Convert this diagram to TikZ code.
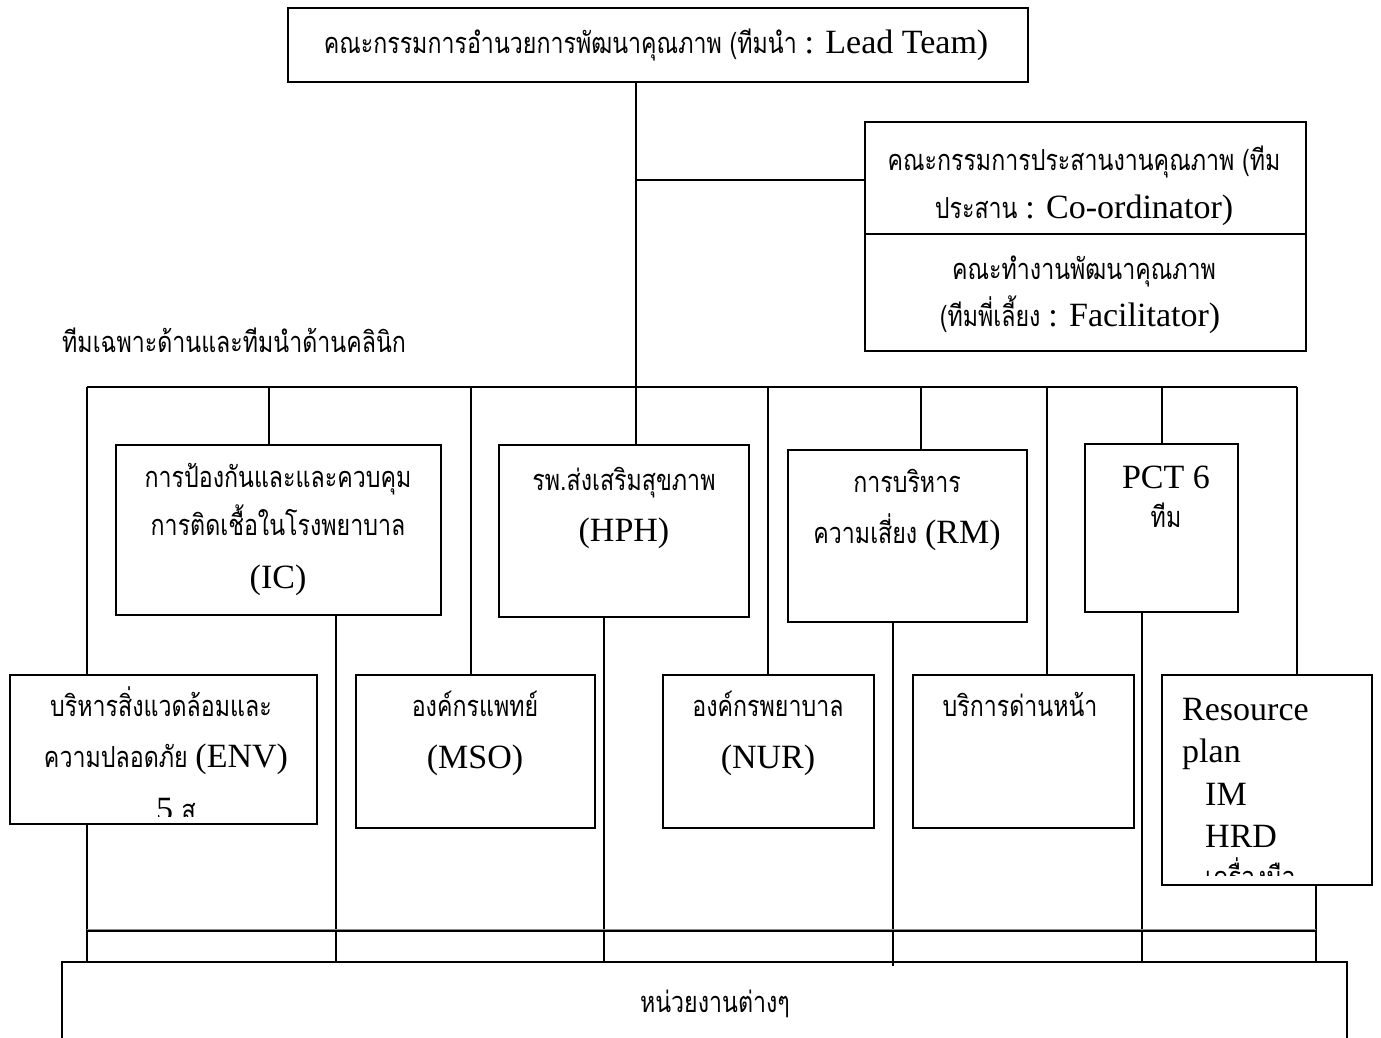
\documentclass[tikz,border=0pt]{standalone}
\usepackage{fontspec}
\setmainfont{Liberation Serif}
\newfontfamily\thaifont[Script=Thai,FakeStretch=0.8]{Loma}
\newcommand{\thtxt}[1]{{\thaifont\fontsize{29}{33}\selectfont #1}}
\newcommand{\entxt}[1]{{\fontsize{34}{39}\selectfont #1}}
\begin{document}
\begin{tikzpicture}[x=1pt,y=-1pt,
  box/.style={draw,line width=1.6pt,inner sep=0pt,outer sep=0pt,anchor=north west},
  link/.style={line width=1.4pt},
  lbl/.style={anchor=base,inner sep=0pt},
  lbll/.style={anchor=base west,inner sep=0pt}]
\useasboundingbox (0,0) rectangle (1381,1037);
\fill[white] (0,0) rectangle (1381,1037);

% ---- top level ----
\node[box,minimum width=740pt,minimum height=74pt] (lead) at (288,8) {};
\node[lbl] (leadT) at (656,53) {\thtxt{คณะกรรมการอำนวยการพัฒนาคุณภาพ (ทีมนำ }\entxt{: Lead Team)}};

\node[box,minimum width=441pt,minimum height=112pt] (coord) at (865,122) {};
\node[box,minimum width=441pt,minimum height=117pt] (facil) at (865,234) {};
\node[lbl] (coordA) at (1084,170) {\thtxt{คณะกรรมการประสานงานคุณภาพ (ทีม}};
\node[lbl] (coordB) at (1084,218) {\thtxt{ประสาน }\entxt{: Co-ordinator)}};
\node[lbl] (facilA) at (1084,279) {\thtxt{คณะทำงานพัฒนาคุณภาพ}};
\node[lbl] (facilB) at (1080,326) {\thtxt{(ทีมพี่เลี้ยง }\entxt{: Facilitator)}};

\node[lbll] (teams) at (62,352) {\thtxt{ทีมเฉพาะด้านและทีมนำด้านคลินิก}};

% ---- upper row of teams ----
\node[box,minimum width=325pt,minimum height=170pt] (ic) at (116,445) {};
\node[lbl] (icA) at (278,487) {\thtxt{การป้องกันและและควบคุม}};
\node[lbl] (icB) at (278,535) {\thtxt{การติดเชื้อในโรงพยาบาล}};
\node[lbl] (icC) at (278,588) {\entxt{(IC)}};

\node[box,minimum width=250pt,minimum height=172pt] (hph) at (499,445) {};
\node[lbl] (hphA) at (624,490) {\thtxt{รพ.ส่งเสริมสุขภาพ}};
\node[lbl] (hphB) at (624,541) {\entxt{(HPH)}};

\node[box,minimum width=239pt,minimum height=172pt] (rm) at (788,450) {};
\node[lbl] (rmA) at (907,492) {\thtxt{การบริหาร}};
\node[lbl] (rmB) at (907,543) {\thtxt{ความเสี่ยง }\entxt{(RM)}};

\node[box,minimum width=153pt,minimum height=168pt] (pct) at (1085,444) {};
\node[lbl] (pctA) at (1166,488) {\entxt{PCT 6}};
\node[lbl] (pctB) at (1166,527) {\thtxt{ทีม}};

% ---- lower row of teams ----
\node[box,minimum width=307pt,minimum height=149pt] (env) at (10,675) {};
\node[lbl] (envA) at (161,716) {\thtxt{บริหารสิ่งแวดล้อมและ}};
\node[lbl] (envB) at (166,767) {\thtxt{ความปลอดภัย }\entxt{(ENV)}};
\begin{scope}
  \clip (10,675) rectangle (317,816);
  \node[lbl] (envC) at (176,820) {\entxt{5 }\thtxt{ส}};
\end{scope}

\node[box,minimum width=239pt,minimum height=153pt] (mso) at (356,675) {};
\node[lbl] (msoA) at (475,716) {\thtxt{องค์กรแพทย์}};
\node[lbl] (msoB) at (475,768) {\entxt{(MSO)}};

\node[box,minimum width=211pt,minimum height=153pt] (nur) at (663,675) {};
\node[lbl] (nurA) at (768,716) {\thtxt{องค์กรพยาบาล}};
\node[lbl] (nurB) at (768,768) {\entxt{(NUR)}};

\node[box,minimum width=221pt,minimum height=153pt] (front) at (913,675) {};
\node[lbl] (frontA) at (1020,716) {\thtxt{บริการด่านหน้า}};

\node[box,minimum width=210pt,minimum height=210pt] (res) at (1162,675) {};
\begin{scope}
  \clip (1162,675) rectangle (1372,875);
  \node[lbll] (resA) at (1182,720) {\entxt{Resource}};
  \node[lbll] (resB) at (1182,762) {\entxt{plan}};
  \node[lbll] (resC) at (1205,805) {\entxt{IM}};
  \node[lbll] (resD) at (1205,847) {\entxt{HRD}};
  \node[lbll] (resE) at (1205,887) {\thtxt{เครื่องมือ}};
\end{scope}

% ---- units ----
\node[box,minimum width=1285pt,minimum height=90pt] (units) at (62,962) {};
\node[lbl] (unitsT) at (715,1012) {\thtxt{หน่วยงานต่างๆ}};

% ---- connectors ----
\coordinate (hub) at (636,387);
\coordinate (split) at (636,180);
\draw[link] (lead.south -| hub) -- (hub);
\draw[link] (split) -- (split -| coord.west);

\coordinate (bL) at (87,387);
\coordinate (bR) at (1297,387);
\draw[link] (bL) -- (bR);

\foreach \xx/\tgt in {87/env,269/ic,471/mso,636/hph,768/nur,921/rm,1047/front,1162/pct,1297/res}
  \draw[link] (\xx,387) -- (\xx,387 |- \tgt.north);

% lower collectors into the units box
\foreach \xx/\src in {87/env,336/ic,604/hph,1142/pct,1316/res}
  \draw[link] (\xx,0 |- \src.south) -- (\xx,0 |- units.north);
\draw[link] (893,0 |- rm.south) -- (893,966);

\draw[line width=1pt,black!45] (87,929.7) -- (1316,929.7);
\draw[link] (87,931) -- (1316,931);
\end{tikzpicture}
\end{document}
